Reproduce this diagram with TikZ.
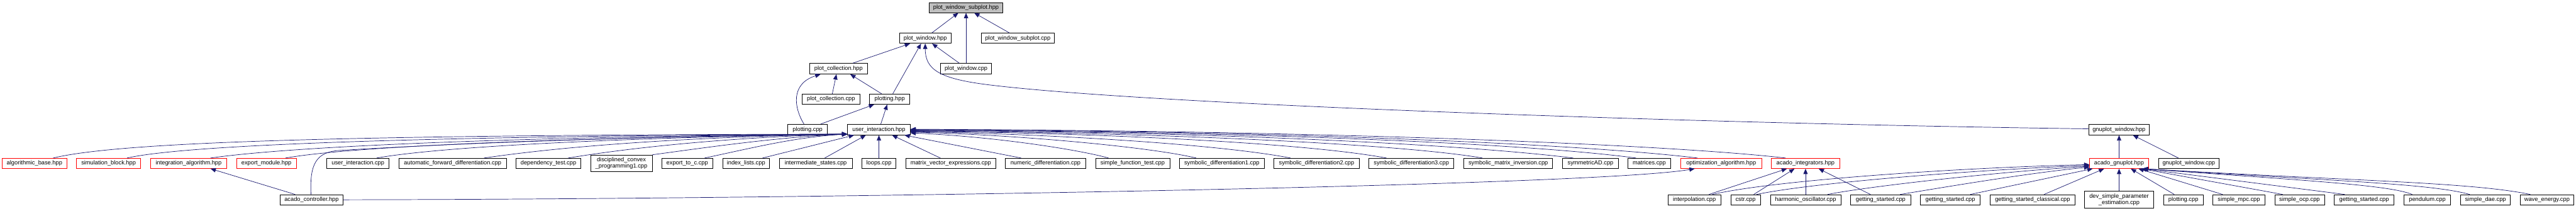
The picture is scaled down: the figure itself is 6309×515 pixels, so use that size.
\documentclass[tikz,border=0pt]{standalone}
\usepackage{fontspec}
\setmainfont{Liberation Sans}
\usetikzlibrary{arrows.meta}
\definecolor{edgec}{HTML}{191970}
\definecolor{redc}{HTML}{FF0000}
\definecolor{rootfill}{HTML}{BFBFBF}
\begin{document}
\begin{tikzpicture}[x=1pt,y=1pt,
  bx/.style={draw=black, line width=1.1pt, inner sep=0pt, minimum height=25pt, text height=10.3pt, text depth=3pt, font=\fontsize{14.3pt}{14.5pt}\selectfont},
  rbx/.style={bx, draw=redc},
  rootbox/.style={bx, fill=rootfill},
  twoline/.style={draw=black, line width=1.1pt, inner sep=0pt, align=center, font=\fontsize{14.3pt}{14.5pt}\selectfont},
  arr/.style={draw=edgec, line width=1.1pt, -{Triangle[length=13pt,width=10.5pt]}},
]
\useasboundingbox (0,0) rectangle (6309,-515);
% row 1-5
\node[rootbox, minimum width=180pt] (root) at (2365.8,-18.5) {plot\_window\_subplot.hpp};
\node[bx, minimum width=125.7pt] (pwh) at (2266,-93.5) {plot\_window.hpp};
\node[bx, minimum width=178.5pt] (pwscpp) at (2492.8,-93.5) {plot\_window\_subplot.cpp};
\node[bx, minimum width=141.3pt, minimum height=26pt] (pch) at (2053.7,-168) {plot\_collection.hpp};
\node[bx, minimum width=124.4pt, minimum height=26pt] (pwcpp) at (2366,-168) {plot\_window.cpp};
\node[bx, minimum width=140.4pt] (pccpp) at (2035.2,-242.5) {plot\_collection.cpp};
\node[bx, minimum width=98.7pt] (ph) at (2179,-242.5) {plotting.hpp};
\node[bx, minimum width=97.3pt, minimum height=26pt] (pcpp) at (1977.9,-317) {plotting.cpp};
\node[bx, minimum width=153.2pt, minimum height=26pt] (uih) at (2152.5,-317) {user\_interaction.hpp};
\node[bx, minimum width=149.1pt, minimum height=26pt] (gwh) at (5189.7,-317) {gnuplot\_window.hpp};
% row 6
\node[rbx, minimum width=159pt] (ab) at (84.5,-399.5) {algorithmic\_base.hpp};
\node[rbx, minimum width=156.6pt] (sb) at (265.9,-399.5) {simulation\_block.hpp};
\node[rbx, minimum width=187pt] (ia) at (462,-399.5) {integration\_algorithm.hpp};
\node[rbx, minimum width=146.7pt] (em) at (652.5,-399.5) {export\_module.hpp};
\node[bx, minimum width=152.2pt] (uicpp) at (876.7,-399.5) {user\_interaction.cpp};
\node[bx, minimum width=263.1pt] (afd) at (1108.7,-399.5) {automatic\_forward\_differentiation.cpp};
\node[bx, minimum width=158.9pt] (dt) at (1343.2,-399.5) {dependency\_test.cpp};
\node[twoline, minimum width=150.8pt, minimum height=40pt] (dcp) at (1521.8,-399) {disciplined\_convex\\\_programming1.cpp};
\node[bx, minimum width=124.4pt] (etc) at (1683.1,-399.5) {export\_to\_c.cpp};
\node[bx, minimum width=115pt] (il) at (1827.1,-399.5) {index\_lists.cpp};
\node[bx, minimum width=178.4pt] (is) at (1997.8,-399.5) {intermediate\_states.cpp};
\node[bx, minimum width=82.9pt] (loops) at (2152.6,-399.5) {loops.cpp};
\node[bx, minimum width=220.4pt] (mve) at (2328.5,-399.5) {matrix\_vector\_expressions.cpp};
\node[bx, minimum width=196.4pt] (nd) at (2560.6,-399.5) {numeric\_differentiation.cpp};
\node[bx, minimum width=181.5pt] (sft) at (2774,-399.5) {simple\_function\_test.cpp};
\node[bx, minimum width=208.2pt] (sd1) at (2992.5,-399.5) {symbolic\_differentiation1.cpp};
\node[bx, minimum width=208.3pt] (sd2) at (3224.5,-399.5) {symbolic\_differentiation2.cpp};
\node[bx, minimum width=208.5pt] (sd3) at (3456.6,-399.5) {symbolic\_differentiation3.cpp};
\node[bx, minimum width=217.4pt] (smi) at (3693.9,-399.5) {symbolic\_matrix\_inversion.cpp};
\node[bx, minimum width=136.5pt] (sad) at (3895.3,-399.5) {symmetricAD.cpp};
\node[bx, minimum width=105.5pt] (mat) at (4039.2,-399.5) {matrices.cpp};
\node[rbx, minimum width=197.9pt] (oa) at (4215.3,-399.5) {optimization\_algorithm.hpp};
\node[rbx, minimum width=167pt] (ai) at (4422,-399.5) {acado\_integrators.hpp};
\node[rbx, minimum width=144.1pt] (ag) at (5189.9,-399.5) {acado\_gnuplot.hpp};
\node[bx, minimum width=148.1pt] (gwcpp) at (5360.6,-399.5) {gnuplot\_window.cpp};
% row 7
\node[bx, minimum width=154.8pt] (ac) at (763.1,-488.5) {acado\_controller.hpp};
\node[bx, minimum width=129.2pt] (interp) at (4149.8,-488.5) {interpolation.cpp};
\node[bx, minimum width=72pt] (cstr) at (4275.1,-488.5) {cstr.cpp};
\node[bx, minimum width=172.4pt] (ho) at (4422,-488.5) {harmonic\_oscillator.cpp};
\node[bx, minimum width=146.7pt] (gs1) at (4606,-488.5) {getting\_started.cpp};
\node[bx, minimum width=147pt] (gs2) at (4776.5,-488.5) {getting\_started.cpp};
\node[bx, minimum width=206.6pt] (gsc) at (4978,-488.5) {getting\_started\_classical.cpp};
\node[twoline, minimum width=169.7pt, minimum height=41pt] (dsp) at (5189.9,-488.5) {dev\_simple\_parameter\\\_estimation.cpp};
\node[bx, minimum width=97.7pt] (pcpp2) at (5347.3,-488.5) {plotting.cpp};
\node[bx, minimum width=127.2pt] (smpc) at (5483.3,-488.5) {simple\_mpc.cpp};
\node[bx, minimum width=121.7pt] (socp) at (5631.8,-488.5) {simple\_ocp.cpp};
\node[bx, minimum width=146.2pt] (gs3) at (5790,-488.5) {getting\_started.cpp};
\node[bx, minimum width=113.5pt] (pend) at (5944.7,-488.5) {pendulum.cpp};
\node[bx, minimum width=122.1pt] (sdae) at (6087.3,-488.5) {simple\_dae.cpp};
\node[bx, minimum width=130.3pt] (we) at (6237.9,-488.5) {wave\_energy.cpp};
% edges top
\draw[arr] ([xshift=16.2pt]pwh.north) -- ([xshift=-18.7pt]root.south);
\draw[arr] (pwcpp.north) -- (pwcpp.north |- root.south);
\draw[arr] ([xshift=-20.6pt]pwscpp.north) -- ([xshift=20.2pt]root.south);
\draw[arr] ([xshift=34.8pt]pch.north) -- ([xshift=-37.2pt]pwh.south);
\draw[arr] ([xshift=7.5pt]ph.north) -- ([xshift=-10.2pt]pwh.south);
\draw[arr] ([xshift=-16.6pt]pwcpp.north) -- ([xshift=16.8pt]pwh.south);
\draw[arr] ([yshift=2pt]gwh.west) .. controls (4200,-303) and (2818,-257) .. (2418,-207) .. controls (2300,-192) and (2266,-170) .. (pwh.south);
\draw[arr] ([xshift=3.2pt]pccpp.north) -- ([xshift=-5.2pt]pch.south);
\draw[arr] ([xshift=-8.8pt]pcpp.north) .. controls (1945,-265) and (1935,-205) .. ([xshift=-44.1pt]pch.south);
\draw[arr] ([xshift=-19.6pt]ph.north) -- ([xshift=28.6pt]pch.south);
\draw[arr] ([xshift=31.7pt]pcpp.north) -- ([xshift=-38.1pt]ph.south);
\draw[arr] ([xshift=4.6pt]uih.north) -- ([xshift=-6pt]ph.south);
% left group into user_interaction.hpp
\coordinate (uiL) at ([yshift=-11pt]uih.west);
\draw[arr] ([xshift=45.7pt]ab.north) .. controls (300,-345) and (900,-330) .. (uiL);
\draw[arr] ([xshift=45.1pt]sb.north) .. controls (450,-355) and (1000,-333) .. (uiL);
\draw[arr] ([xshift=53.6pt]ia.north) .. controls (700,-360) and (1200,-335) .. (uiL);
\draw[arr] ([xshift=46.7pt]em.north) .. controls (850,-360) and (1300,-338) .. (uiL);
\draw[arr] ([xshift=-1.4pt]ac.north) .. controls (758,-400) and (775,-372) .. (830,-368) .. controls (1200,-345) and (1700,-332) .. (uiL);
\draw[arr] ([xshift=45.6pt]uicpp.north) .. controls (1100,-355) and (1600,-335) .. (uiL);
\draw[arr] ([xshift=76.7pt]afd.north) .. controls (1400,-355) and (1700,-335) .. (uiL);
\draw[arr] ([xshift=48.4pt]dt.north) .. controls (1550,-360) and (1800,-335) .. (uiL);
\draw[arr] (dcp.north east) .. controls (1700,-365) and (1900,-335) .. (uiL);
\draw[arr] ([xshift=42.6pt]etc.north) .. controls (1850,-360) and (1950,-335) .. (uiL);
\draw[arr] ([xshift=40.5pt]il.north) -- ([xshift=-60.7pt]uih.south);
\draw[arr] ([xshift=22pt]is.north) -- ([xshift=-31.9pt]uih.south);
\draw[arr] (loops.north) -- (loops.north |- uih.south);
\draw[arr] ([xshift=-25.4pt]mve.north) -- ([xshift=32.3pt]uih.south);
\draw[arr] ([xshift=-59.7pt]nd.north) -- ([xshift=62.7pt]uih.south);
% right group into user_interaction.hpp
\draw[arr] ([xshift=-59.1pt]sft.north) .. controls (2650,-368) and (2450,-335) .. ([yshift=-8pt]uih.east);
\draw[arr] ([xshift=-62.9pt]sd1.north) .. controls (2820,-360) and (2500,-330) .. ([yshift=-6pt]uih.east);
\draw[arr] ([xshift=-63.9pt]sd2.north) .. controls (3000,-355) and (2600,-328) .. ([yshift=-5pt]uih.east);
\draw[arr] ([xshift=-61.1pt]sd3.north) .. controls (3200,-350) and (2700,-325) .. ([yshift=-4pt]uih.east);
\draw[arr] ([xshift=-63.4pt]smi.north) .. controls (3450,-355) and (2900,-325) .. ([yshift=-3pt]uih.east);
\draw[arr] ([xshift=-42.3pt]sad.north) .. controls (3600,-355) and (3000,-322) .. ([yshift=-2pt]uih.east);
\draw[arr] ([xshift=-32.4pt]mat.north) .. controls (3750,-352) and (3100,-322) .. ([yshift=-1pt]uih.east);
\draw[arr] ([xshift=-58.1pt]oa.north) .. controls (3900,-355) and (3200,-320) .. (uih.east);
\draw[arr] ([xshift=-49pt]ai.north) .. controls (4100,-355) and (3300,-320) .. ([yshift=1pt]uih.east);
% acado_controller
\draw[arr] ([xshift=-40.2pt]ac.north) -- ([xshift=53.6pt]ia.south);
\draw[arr] (ac.east) .. controls (2000,-487) and (3900,-455) .. ([xshift=-64.8pt]oa.south);
% acado_integrators
\draw[arr] ([xshift=35.6pt]interp.north) -- ([xshift=-45.6pt]ai.south);
\draw[arr] ([xshift=20.1pt]cstr.north) -- ([xshift=-27pt]ai.south);
\draw[arr] (ho.north) -- (ho.north |- ai.south);
\draw[arr] ([xshift=-25.1pt]gs1.north) -- ([xshift=32.1pt]ai.south);
% acado_gnuplot
\draw[arr] ([xshift=44pt]interp.north) .. controls (4350,-440) and (4800,-410) .. ([yshift=-3pt]ag.west);
\draw[arr] ([xshift=26.9pt]cstr.north) .. controls (4450,-445) and (4850,-415) .. ([yshift=-5pt]ag.west);
\draw[arr] ([xshift=54.1pt]ho.north) .. controls (4580,-455) and (4900,-420) .. ([yshift=-7pt]ag.west);
\draw[arr] ([xshift=47.6pt]gs1.north) .. controls (4720,-465) and (4950,-425) .. ([yshift=-9pt]ag.west);
\draw[arr] ([xshift=48.9pt]gs2.north) -- ([xshift=8pt]ag.south west);
\draw[arr] ([xshift=28.2pt]gsc.north) -- ([xshift=-36.6pt]ag.south);
\draw[arr] (dsp.north) -- (dsp.north |- ag.south);
\draw[arr] ([xshift=-22.2pt]pcpp2.north) -- ([xshift=28.7pt]ag.south);
\draw[arr] ([xshift=-39.9pt]smpc.north) -- ([xshift=47.3pt]ag.south);
\draw[arr] ([xshift=-41.3pt]socp.north) -- ([xshift=54.1pt]ag.south);
\draw[arr] ([xshift=-47.5pt]gs3.north) -- ([xshift=57pt]ag.south);
\draw[arr] ([xshift=-36.9pt]pend.north) .. controls (5850,-452) and (5650,-442) .. ([xshift=58pt]ag.south);
\draw[arr] ([xshift=-38.6pt]sdae.north) .. controls (5950,-448) and (5700,-442) .. ([xshift=58pt]ag.south);
\draw[arr] ([xshift=-40.8pt]we.north) .. controls (6050,-445) and (5750,-442) .. ([xshift=58pt]ag.south);
% gnuplot_window
\draw[arr] (ag.north) -- (ag.north |- gwh.south);
\draw[arr] ([xshift=-25.4pt]gwcpp.north) -- ([xshift=34pt]gwh.south);
\end{tikzpicture}
\end{document}
